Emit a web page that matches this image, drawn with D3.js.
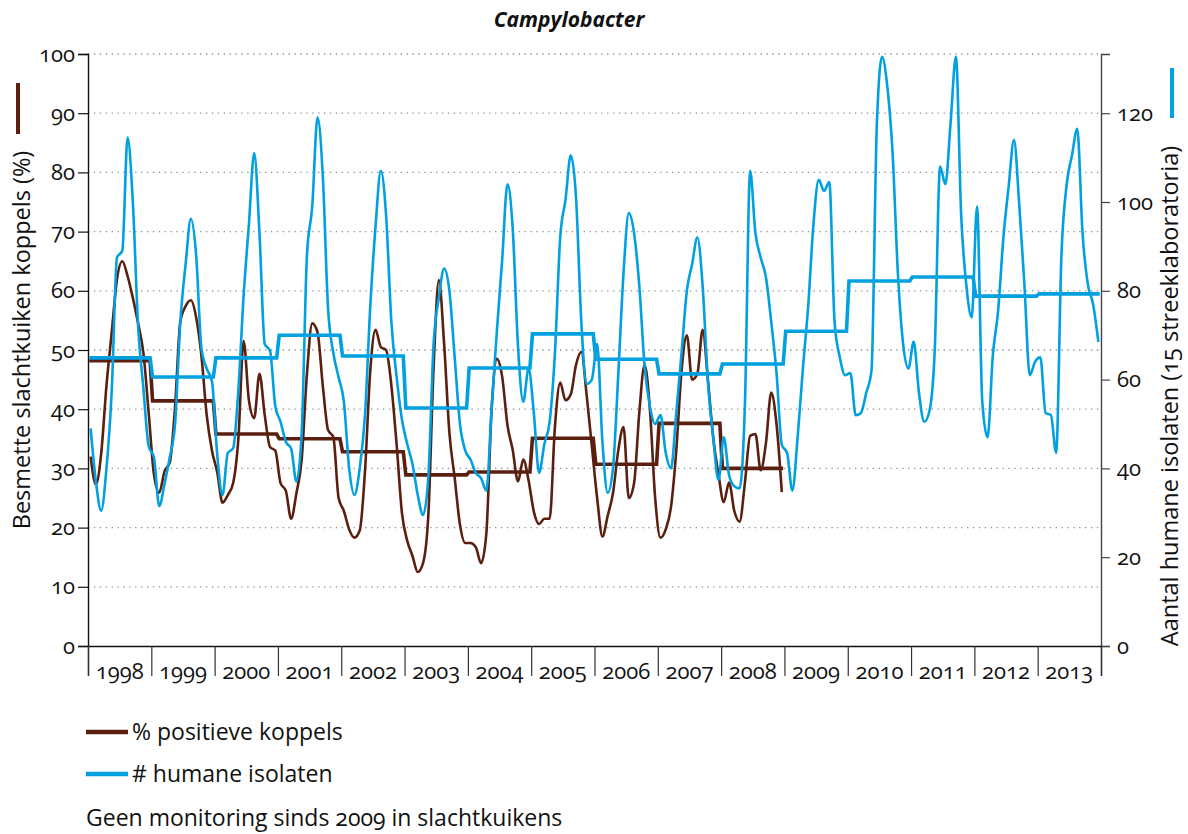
<!DOCTYPE html>
<html>
<head>
<meta charset="utf-8">
<script src="https://cdn.jsdelivr.net/npm/d3@7"></script>
<style>
  body { margin: 0; background: #fff; }
  svg text { font-family: "Open Sans", "Noto Sans", sans-serif; fill: #111; font-variant-numeric: oldstyle-nums; }
</style>
</head>
<body>
<script>
const width = 1188;
const height = 834;

// years on the x axis (one band each)
const years = d3.range(1998, 2014);

// % positive flocks, monthly, 1998-2008
const koppelsMonthly = [
  32, 27.3, 32.5, 44, 53, 62, 65, 62.5, 58.8, 54.5, 49.5, 39.4,      // 1998
  29, 25.9, 29.5, 31, 40.4, 54.8, 57.4, 58.4, 55.5, 49, 39, 33,      // 1999
  29.3, 24.2, 25.5, 27.5, 35, 51.5, 41.5, 38.5, 46, 39, 33.6, 33,    // 2000
  27.5, 26.2, 21.5, 25.8, 31.5, 46, 54.5, 53, 44, 36.5, 35.3, 25,    // 2001
  22.8, 19.7, 18.3, 19.5, 29.5, 46.5, 53.4, 50.5, 50, 44, 34, 22.5,  // 2002
  17.8, 15.2, 12.5, 14, 22, 47, 61.8, 51, 36, 28.4, 20.5, 17.4,      // 2003
  17.4, 16.7, 14, 19, 40, 48.5, 45.5, 37.3, 33.1, 27.8, 31.5, 28,    // 2004
  22.7, 20.6, 21.5, 21.5, 37, 44.5, 41.5, 42.5, 47.5, 49.7, 42.5, 33.7, // 2005
  25, 18.5, 22, 25.8, 33, 37, 25, 27.5, 39.5, 47.5, 40, 25,          // 2006
  18.3, 19.7, 23.5, 33, 46.5, 52.5, 45, 46, 53.4, 44.9, 35.2, 29,    // 2007
  24.3, 27.6, 22.8, 21, 27.5, 35.5, 35.8, 29.7, 34.3, 42.8, 37.5, 26 // 2008
];

// number of human isolates, monthly, 1998-2013
const isolatenMonthly = [
  49, 37, 30.5, 40, 57.5, 87.5, 89, 114.5, 100, 72, 58, 45,          // 1998
  42.5, 31.5, 36.5, 42.5, 50, 73, 86, 96.2, 88, 67, 62.5, 59.5,      // 1999
  43, 34, 43.5, 44.5, 57.7, 79, 95, 111, 93, 68, 66.5, 54,           // 2000
  50.5, 46, 44.5, 37, 48, 88, 99, 119, 106, 76, 66, 60.5,            // 2001
  55, 40, 34, 40, 52, 76.5, 94.5, 107, 97, 73, 60.6, 51,             // 2002
  45.5, 41, 34, 29.5, 38, 68, 78.5, 85, 80, 65, 50, 44,              // 2003
  42, 39, 37.8, 35, 53.5, 71, 87, 104, 94, 67.5, 55, 62.5,           // 2004
  52.5, 39, 45.5, 50.5, 66, 92, 100.5, 110.5, 101, 73, 59, 60,       // 2005
  68, 46, 34.5, 40, 61, 84, 97.5, 93, 81, 63, 54, 50,                // 2006
  52, 43.5, 40, 52.5, 66, 80, 86, 92, 81, 59.5, 47, 37.4,            // 2007
  47, 38.5, 36, 35.5, 54, 107, 93, 87.5, 83, 73, 61.5, 45.3,         // 2008
  43.5, 35, 47, 62.5, 76.5, 95, 105, 102.5, 104.5, 73, 65, 61,       // 2009
  61.5, 52, 52.5, 57, 62, 117, 132.7, 126, 111, 84, 68, 62.5,        // 2010
  68.5, 57, 50.5, 53, 67, 108, 104, 118, 132.7, 97, 81, 74,          // 2011
  99, 55, 47, 65.5, 75.5, 92, 103.5, 114, 99.5, 81, 61, 64,          // 2012
  65, 52.5, 52, 43.5, 88, 104, 110.5, 116.5, 93, 81.5, 77, 68.5      // 2013
];

// yearly averages
const koppelsYearly = [48.2, 41.4, 35.8, 35.0, 32.8, 28.9, 29.4, 35.1, 30.7, 37.6, 30.0];
const isolatenYearly = [64.9, 60.6, 64.9, 70.0, 65.3, 53.6, 62.6, 70.3, 64.6, 61.3, 63.5, 70.9, 82.2, 83.1, 78.8, 79.3];

const leftTicks = d3.range(0, 101, 10);
const rightTicks = [0, 20, 40, 60, 80, 100, 120];

const brown = "#5a1f0e";
const blue = "#00a0e1";

const svg = d3.select("body").append("svg")
  .attr("width", width)
  .attr("height", height);

const x = d3.scaleLinear().domain([1998, 2014]).range([88, 1101]);
const yL = d3.scaleLinear().domain([0, 100]).range([646, 54]);
const yR = d3.scaleLinear().domain([0, 400 / 3]).range([646, 54]);

// dotted grid
svg.append("g")
  .selectAll("line")
  .data(leftTicks.filter(d => d > 0))
  .enter().append("line")
    .attr("x1", x(1998)).attr("x2", x(2014))
    .attr("y1", d => yL(d)).attr("y2", d => yL(d))
    .attr("stroke", "#8c8c8c")
    .attr("stroke-width", 1.3)
    .attr("stroke-dasharray", "1.3,4.6");

// left axis
const gL = svg.append("g")
  .attr("transform", "translate(" + x(1998) + ",0)")
  .call(d3.axisLeft(yL).tickValues(leftTicks).tickSize(10).tickPadding(3));
gL.select(".domain").attr("stroke", "#111").attr("stroke-width", 1.4);
gL.selectAll(".tick line").attr("stroke", "#111").attr("stroke-width", 1.2);
gL.selectAll(".tick text").style("font-size", "22px").attr("fill", "#111");

// right axis
const gR = svg.append("g")
  .attr("transform", "translate(" + x(2014) + ",0)")
  .call(d3.axisRight(yR).tickValues(rightTicks).tickSize(9).tickPadding(7));
gR.select(".domain").attr("stroke", "#444").attr("stroke-width", 1.4);
gR.selectAll(".tick line").attr("stroke", "#444").attr("stroke-width", 1.2);
gR.selectAll(".tick text").style("font-size", "22px").attr("fill", "#111");

// bottom axis with year separators
const gX = svg.append("g")
  .attr("transform", "translate(0," + yL(0) + ")")
  .call(d3.axisBottom(x).tickValues(d3.range(1998, 2015)).tickSize(30).tickFormat(""));
gX.select(".domain").attr("stroke", "#111").attr("stroke-width", 1.4);
gX.selectAll(".tick line").attr("stroke", "#333").attr("stroke-width", 1.2);

svg.append("g")
  .selectAll("text")
  .data(years)
  .enter().append("text")
    .attr("x", d => x(d + 0.5))
    .attr("y", 679)
    .attr("text-anchor", "middle")
    .style("font-size", "22px")
    .text(d => d);

// monthly series
function monthTime(i) { return 1998 + (i + 0.5) / 12; }

const lineL = d3.line()
  .x((d, i) => x(monthTime(i)))
  .y(d => yL(d))
  .curve(d3.curveMonotoneX);

const lineR = d3.line()
  .x((d, i) => x(monthTime(i)))
  .y(d => yR(d))
  .curve(d3.curveMonotoneX);

// yearly steps
function steps(values) {
  const pts = [];
  values.forEach((v, i) => {
    pts.push([1998 + i + 0.02, v]);
    pts.push([1998 + i + 0.98, v]);
  });
  return pts;
}

svg.append("path")
  .datum(koppelsMonthly)
  .attr("d", lineL)
  .attr("fill", "none")
  .attr("stroke", brown)
  .attr("stroke-width", 2.6)
  .attr("stroke-linejoin", "round");

svg.append("path")
  .datum(steps(koppelsYearly))
  .attr("d", d3.line().x(d => x(d[0])).y(d => yL(d[1])))
  .attr("fill", "none")
  .attr("stroke", brown)
  .attr("stroke-width", 3.6);

svg.append("path")
  .datum(isolatenMonthly)
  .attr("d", lineR)
  .attr("fill", "none")
  .attr("stroke", blue)
  .attr("stroke-width", 2.6)
  .attr("stroke-linejoin", "round");

svg.append("path")
  .datum(steps(isolatenYearly))
  .attr("d", d3.line().x(d => x(d[0])).y(d => yR(d[1])))
  .attr("fill", "none")
  .attr("stroke", blue)
  .attr("stroke-width", 3.6);

// title
svg.append("text")
  .attr("x", 569)
  .attr("y", 27)
  .attr("text-anchor", "middle")
  .style("font-size", "21px")
  .style("font-weight", "bold")
  .style("font-style", "italic")
  .text("Campylobacter");

// axis titles with colour markers
svg.append("line")
  .attr("x1", 18).attr("x2", 18).attr("y1", 83).attr("y2", 134)
  .attr("stroke", brown).attr("stroke-width", 4);
svg.append("text")
  .attr("transform", "translate(30,340) rotate(-90)")
  .attr("text-anchor", "middle")
  .style("font-size", "23.5px")
  .text("Besmette slachtkuiken koppels (%)");

svg.append("line")
  .attr("x1", 1172).attr("x2", 1172).attr("y1", 68).attr("y2", 118)
  .attr("stroke", blue).attr("stroke-width", 4);
svg.append("text")
  .attr("transform", "translate(1178,396) rotate(-90)")
  .attr("text-anchor", "middle")
  .style("font-size", "23.5px")
  .text("Aantal humane isolaten (15 streeklaboratoria)");

// legend
const legend = [
  { label: "% positieve koppels", color: brown, y: 732 },
  { label: "# humane isolaten", color: blue, y: 774 }
];
legend.forEach(d => {
  svg.append("line")
    .attr("x1", 86).attr("x2", 128).attr("y1", d.y).attr("y2", d.y)
    .attr("stroke", d.color).attr("stroke-width", 4.5);
  svg.append("text")
    .attr("x", 132).attr("y", d.y + 8)
    .style("font-size", "23px")
    .text(d.label);
});

svg.append("text")
  .attr("x", 86).attr("y", 826)
  .style("font-size", "23px")
  .text("Geen monitoring sinds 2009 in slachtkuikens");
</script>
</body>
</html>
